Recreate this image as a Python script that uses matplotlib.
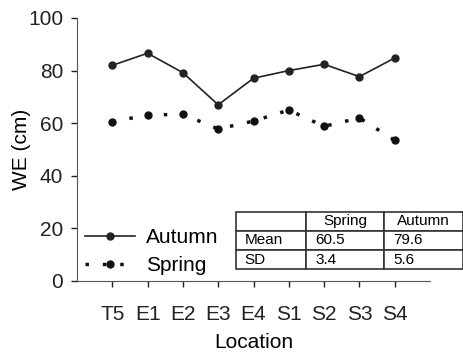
import matplotlib.pyplot as plt

plt.rcParams['font.family'] = ['Liberation Sans', 'DejaVu Sans']

locations = ["T5", "E1", "E2", "E3", "E4", "S1", "S2", "S3", "S4"]
autumn = [82.0, 86.6, 79.2, 67.0, 77.1, 80.0, 82.4, 77.7, 84.8]
spring = [60.6, 63.1, 63.4, 57.8, 60.8, 65.0, 58.8, 62.0, 53.5]

table_cols = ["", "Spring", "Autumn"]
table_rows = [["Mean", "60.5", "79.6"],
              ["SD", "3.4", "5.6"]]

fig = plt.figure(figsize=(4.64, 3.53), dpi=100)
ax = fig.add_axes([77 / 464, 1 - 281 / 353, (430 - 77) / 464, (281 - 18) / 353])

x = list(range(1, len(locations) + 1))
ax.plot(x, autumn, color='#222222', linestyle='-', linewidth=1.2,
        marker='o', markersize=5, label='Autumn')
ax.plot(x, spring, color='#111111', linestyle=(0, (1, 4)), linewidth=2.5,
        marker='o', markersize=5, label='Spring')

ax.set_xlim(0, 10)
ax.set_ylim(0, 100)
ax.set_xticks(x)
ax.set_xticklabels(locations)
ax.set_yticks([0, 20, 40, 60, 80, 100])
ax.spines['top'].set_visible(False)
ax.spines['right'].set_visible(False)
for s in ('left', 'bottom'):
    ax.spines[s].set_color('#555555')
ax.tick_params(axis='both', labelsize=15, colors='#222222', length=4, width=1)
ax.tick_params(axis='x', pad=13)
ax.tick_params(axis='y', pad=6)
ax.set_xlabel("Location", fontsize=15, labelpad=7)
ax.set_ylabel("WE (cm)", fontsize=15, labelpad=-2)

ax.legend(loc='lower left', bbox_to_anchor=(0.0, -0.01), frameon=False,
          fontsize=15, handlelength=2.4, handletextpad=0.5, labelspacing=0.45,
          borderaxespad=0.0)

tab = ax.table(cellText=table_rows, colLabels=table_cols,
               cellLoc='left', colWidths=[70 / 353, 78 / 353, 79 / 353],
               bbox=[(236 - 77) / 353, (281 - 269) / 263, (463 - 236) / 353, (269 - 212) / 263])
tab.auto_set_font_size(False)
tab.set_fontsize(11)
for (r, c), cell in tab.get_celld().items():
    cell.set_linewidth(1.2)
    cell.set_edgecolor('#333333')
    cell.PAD = 0.12
tab.set_clip_on(False)

fig.savefig("out.png", dpi=100)
